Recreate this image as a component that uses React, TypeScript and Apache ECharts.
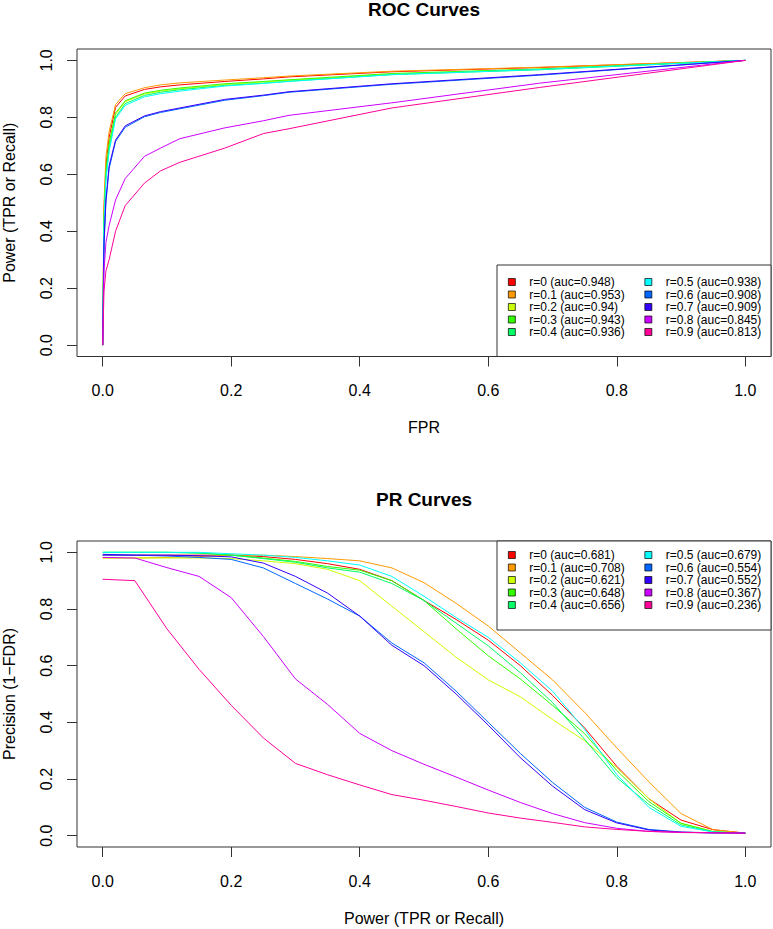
import React, { useEffect, useRef } from "react";
import * as echarts from "echarts";

// colours of R's rainbow(10)
const rainbow = ["#FF0000", "#FF9900", "#CCFF00", "#33FF00", "#00FF66", "#00FFFF", "#0066FF", "#3300FF", "#CC00FF", "#FF0099"];
const rValues = ["0", "0.1", "0.2", "0.3", "0.4", "0.5", "0.6", "0.7", "0.8", "0.9"];
const rocAuc = ["0.948", "0.953", "0.94", "0.943", "0.936", "0.938", "0.908", "0.909", "0.845", "0.813"];
const prAuc = ["0.681", "0.708", "0.621", "0.648", "0.656", "0.679", "0.554", "0.552", "0.367", "0.236"];
const tickValues = [0, 0.2, 0.4, 0.6, 0.8, 1.0];

// ROC: false positive rate and power per r
const rocFpr = [0, 0.002, 0.005, 0.01, 0.02, 0.035, 0.065, 0.09, 0.12, 0.19, 0.25, 0.29, 0.45, 0.68, 1];
const rocTpr = [
  [0, 0.47, 0.63, 0.73, 0.835, 0.875, 0.898, 0.907, 0.914, 0.926, 0.935, 0.942, 0.96, 0.975, 1],
  [0, 0.5, 0.66, 0.75, 0.845, 0.883, 0.904, 0.914, 0.921, 0.931, 0.939, 0.945, 0.962, 0.976, 1],
  [0, 0.44, 0.6, 0.7, 0.81, 0.855, 0.882, 0.892, 0.9, 0.915, 0.924, 0.93, 0.952, 0.969, 1],
  [0, 0.45, 0.61, 0.71, 0.815, 0.858, 0.885, 0.895, 0.903, 0.918, 0.926, 0.932, 0.954, 0.97, 1],
  [0, 0.43, 0.59, 0.69, 0.8, 0.848, 0.877, 0.888, 0.897, 0.912, 0.92, 0.927, 0.95, 0.967, 1],
  [0, 0.42, 0.58, 0.68, 0.795, 0.842, 0.872, 0.883, 0.892, 0.91, 0.919, 0.926, 0.95, 0.968, 1],
  [0, 0.35, 0.5, 0.62, 0.715, 0.765, 0.802, 0.817, 0.83, 0.86, 0.876, 0.888, 0.916, 0.948, 1],
  [0, 0.36, 0.51, 0.63, 0.72, 0.77, 0.805, 0.82, 0.833, 0.863, 0.878, 0.89, 0.918, 0.95, 1],
  [0, 0.26, 0.36, 0.42, 0.51, 0.585, 0.663, 0.692, 0.725, 0.763, 0.788, 0.807, 0.851, 0.92, 1],
  [0, 0.19, 0.26, 0.3, 0.4, 0.49, 0.569, 0.612, 0.642, 0.692, 0.743, 0.76, 0.833, 0.905, 1],
];

// PR: recall and precision per r
const prRecall = [0, 0.05, 0.1, 0.15, 0.2, 0.25, 0.3, 0.35, 0.4, 0.45, 0.5, 0.55, 0.6, 0.65, 0.7, 0.75, 0.8, 0.85, 0.9, 0.95, 1];
const prPrecision = [
  [0.99, 0.99, 0.99, 0.99, 0.99, 0.985, 0.975, 0.96, 0.94, 0.9, 0.83, 0.763, 0.69, 0.6, 0.495, 0.38, 0.245, 0.13, 0.055, 0.021, 0.009],
  [0.98, 0.98, 0.982, 0.985, 0.99, 0.99, 0.985, 0.978, 0.97, 0.945, 0.893, 0.82, 0.74, 0.645, 0.55, 0.435, 0.31, 0.19, 0.078, 0.021, 0.009],
  [0.98, 0.98, 0.98, 0.98, 0.978, 0.97, 0.96, 0.94, 0.9, 0.81, 0.72, 0.63, 0.55, 0.49, 0.41, 0.335, 0.24, 0.13, 0.043, 0.015, 0.009],
  [1.0, 1.0, 1.0, 0.998, 0.99, 0.98, 0.968, 0.95, 0.937, 0.9, 0.83, 0.73, 0.635, 0.553, 0.46, 0.36, 0.23, 0.12, 0.044, 0.014, 0.009],
  [1.0, 1.0, 1.0, 0.997, 0.99, 0.978, 0.965, 0.945, 0.93, 0.89, 0.83, 0.75, 0.67, 0.575, 0.47, 0.34, 0.205, 0.11, 0.038, 0.013, 0.009],
  [1.0, 1.0, 1.0, 1.0, 0.995, 0.99, 0.982, 0.97, 0.955, 0.915, 0.845, 0.77, 0.7, 0.61, 0.51, 0.375, 0.215, 0.1, 0.033, 0.013, 0.009],
  [0.99, 0.99, 0.987, 0.982, 0.975, 0.945, 0.89, 0.835, 0.775, 0.68, 0.61, 0.51, 0.4, 0.29, 0.188, 0.1, 0.048, 0.022, 0.013, 0.01, 0.009],
  [0.993, 0.99, 0.99, 0.988, 0.984, 0.962, 0.915, 0.856, 0.775, 0.672, 0.6, 0.5, 0.39, 0.275, 0.175, 0.092, 0.045, 0.02, 0.012, 0.01, 0.009],
  [0.982, 0.98, 0.946, 0.915, 0.84, 0.703, 0.553, 0.463, 0.361, 0.3, 0.252, 0.207, 0.161, 0.117, 0.078, 0.046, 0.026, 0.015, 0.011, 0.01, 0.009],
  [0.905, 0.9, 0.73, 0.587, 0.46, 0.345, 0.255, 0.215, 0.179, 0.145, 0.125, 0.103, 0.08, 0.062, 0.047, 0.031, 0.022, 0.015, 0.012, 0.01, 0.009],
];

const font = "Liberation Sans, Arial, Helvetica, sans-serif";

function axisPair(gridIndex: number, xName: string, yName: string) {
  const common = {
    type: "value" as const,
    gridIndex,
    min: -0.04,
    max: 1.04,
    splitLine: { show: false },
    axisLine: { show: false, onZero: false },
    axisTick: { show: true, length: 10, customValues: tickValues, lineStyle: { color: "#333", width: 1 } },
    nameLocation: "middle" as const,
    nameTextStyle: { fontSize: 16, color: "#000", fontFamily: font },
  };
  return {
    x: {
      ...common,
      name: xName,
      nameGap: 63,
      axisLabel: {
        customValues: tickValues,
        formatter: (v: number) => v.toFixed(1),
        fontSize: 16,
        color: "#000",
        fontFamily: font,
        margin: 26,
      },
    },
    y: {
      ...common,
      name: yName,
      nameGap: 60,
      axisLabel: {
        customValues: tickValues,
        formatter: (v: number) => v.toFixed(1),
        fontSize: 16,
        color: "#000",
        fontFamily: font,
        margin: 23,
        rotate: 90,
      },
    },
  };
}

function legendColumn(names: string[], from: number, left: number, top: number) {
  return {
    orient: "vertical",
    left,
    top,
    padding: 0,
    itemGap: 0.5,
    itemWidth: 7,
    itemHeight: 7,
    selectedMode: false,
    z: 10,
    // the gap token pushes the label away from its swatch, as in R's legend
    formatter: (name: string) => `{gap| }${name}`,
    textStyle: {
      fontSize: 12,
      color: "#000",
      fontFamily: font,
      lineHeight: 12,
      rich: { gap: { width: 9, fontSize: 12, lineHeight: 12 } },
    },
    data: names.slice(from, from + 5).map((name, k) => ({
      name,
      icon: "rect",
      itemStyle: { color: rainbow[from + k], borderColor: "#000", borderWidth: 0.7 },
    })),
  };
}

export default function App() {
  const chartRef = useRef<HTMLDivElement>(null);

  useEffect(() => {
    if (!chartRef.current) return;
    const chart = echarts.init(chartRef.current, null, { renderer: "svg" });

    const rocNames = rValues.map((r, i) => `r=${r} (auc=${rocAuc[i]})`);
    const prNames = rValues.map((r, i) => `r=${r} (auc=${prAuc[i]})`);
    const roc = axisPair(0, "FPR", "Power (TPR or Recall)");
    const pr = axisPair(1, "Power (TPR or Recall)", "Precision (1\u2212FDR)");

    const rocSeries = rocTpr.map((ys, i) => ({
      type: "line",
      name: rocNames[i],
      xAxisIndex: 0,
      yAxisIndex: 0,
      showSymbol: false,
      symbol: "none",
      lineStyle: { width: 1, color: rainbow[i] },
      itemStyle: { color: rainbow[i] },
      data: ys.map((y, j) => [rocFpr[j], y]),
    }));
    const prSeries = prPrecision.map((ys, i) => ({
      type: "line",
      name: prNames[i],
      xAxisIndex: 1,
      yAxisIndex: 1,
      showSymbol: false,
      symbol: "none",
      lineStyle: { width: 1, color: rainbow[i] },
      itemStyle: { color: rainbow[i] },
      data: ys.map((y, j) => [prRecall[j], y]),
    }));

    const gridBase = {
      left: 77,
      width: 694,
      show: true,
      borderColor: "#333",
      borderWidth: 1,
      backgroundColor: "transparent",
      containLabel: false,
      outerBoundsMode: "none",
    };

    chart.setOption({
      animation: false,
      backgroundColor: "#fff",
      grid: [
        { ...gridBase, top: 49, height: 307.5 },
        { ...gridBase, top: 541, height: 306 },
      ],
      xAxis: [roc.x, pr.x],
      yAxis: [roc.y, pr.y],
      legend: [
        legendColumn(rocNames, 0, 508, 276),
        legendColumn(rocNames, 5, 644.5, 276),
        legendColumn(prNames, 0, 508, 549),
        legendColumn(prNames, 5, 644.5, 549),
      ],
      graphic: [
        {
          type: "text",
          x: 424,
          y: 0,
          style: { text: "ROC Curves", fontSize: 19, fontWeight: "bold", fontFamily: font, fill: "#000", align: "center", verticalAlign: "top" },
        },
        {
          type: "text",
          x: 424,
          y: 490,
          style: { text: "PR Curves", fontSize: 19, fontWeight: "bold", fontFamily: font, fill: "#000", align: "center", verticalAlign: "top" },
        },
        {
          type: "rect",
          z: 3,
          shape: { x: 497, y: 265, width: 274, height: 91.5 },
          style: { fill: "#fff", stroke: "#333", lineWidth: 1 },
        },
        {
          type: "rect",
          z: 3,
          shape: { x: 497, y: 541, width: 274, height: 89 },
          style: { fill: "#fff", stroke: "#333", lineWidth: 1 },
        },
      ],
      series: [...rocSeries, ...prSeries],
    });

    return () => {
      chart.dispose();
    };
  }, []);

  return <div ref={chartRef} style={{ position: "fixed", left: 0, top: 0, width: 773, height: 929 }} />;
}
